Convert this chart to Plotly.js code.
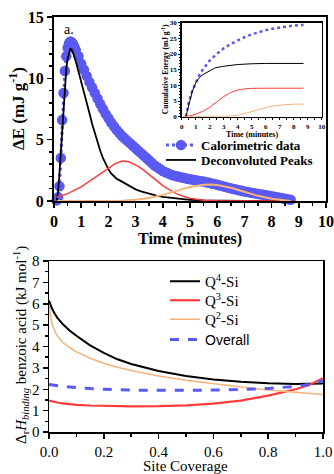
<!DOCTYPE html>
<html>
<head>
<meta charset="utf-8">
<script src="https://cdn.plot.ly/plotly-3.0.1.min.js"></script>
<style>html,body{margin:0;padding:0;background:#fff;}#chart{width:334px;height:474px;}</style>
</head>
<body>
<div id="chart"></div>
<script>
// ---- Panel a: calorimetric data (minutes, mJ/g) ----
const calTime = [0.10,0.15,0.20,0.25,0.30,0.35,0.40,0.45,0.50,0.55,0.60,0.65,0.70,0.75,0.80,0.9,1.0,1.1,1.2,1.3,1.4,1.5,1.6,1.7,1.8,1.9,2.0,2.1,2.2,2.3,2.4,2.5,2.6,2.7,2.8,2.9,3.0,3.1,3.2,3.3,3.4,3.5,3.6,3.7,3.8,3.9,4.0,4.1,4.2,4.3,4.4,4.5,4.6,4.7,4.8,4.9,5.0,5.1,5.2,5.3,5.4,5.5,5.6,5.7,5.8,5.9,6.0,6.1,6.2,6.3,6.4,6.5,6.6,6.7,6.8,6.9,7.0,7.1,7.2,7.3,7.4,7.5,7.6,7.7,7.8,7.9,8.0,8.1,8.2,8.3,8.4,8.5,8.6,8.7];
const calEnergy = [0.05,0.3,1.2,3.5,6.6,8.8,10.6,11.8,12.5,12.85,13.0,12.95,12.8,12.55,12.3,11.8,11.2,10.7,10.2,9.7,9.25,8.8,8.35,7.9,7.5,7.1,6.75,6.4,6.1,5.8,5.55,5.3,5.1,4.9,4.7,4.5,4.3,4.1,3.9,3.7,3.5,3.3,3.1,2.9,2.75,2.6,2.45,2.35,2.25,2.15,2.08,2.02,1.97,1.92,1.87,1.82,1.78,1.74,1.70,1.66,1.62,1.58,1.53,1.48,1.43,1.38,1.33,1.27,1.21,1.15,1.09,1.03,0.98,0.93,0.88,0.83,0.78,0.74,0.70,0.66,0.62,0.58,0.54,0.50,0.46,0.42,0.38,0.34,0.30,0.26,0.22,0.18,0.14,0.10];

// Deconvoluted peaks
const peak1Time = [0.10,0.15,0.20,0.25,0.30,0.35,0.40,0.45,0.50,0.55,0.60,0.65,0.70,0.80,0.90,1.0,1.1,1.2,1.3,1.4,1.5,1.6,1.7,1.8,1.9,2.0,2.1,2.2,2.3,2.4,2.5,2.6,2.8,3.0,3.2,3.4,3.6,3.8,4.0,4.5,5.0,5.5,6.0,7.0,8.7];
const peak1Energy = [0.0,0.8,2.2,4.0,6.0,7.9,9.5,10.7,11.6,12.1,12.4,12.35,12.1,11.4,10.6,9.8,9.0,8.1,7.2,6.3,5.5,4.75,4.1,3.5,3.0,2.6,2.25,2.0,1.82,1.7,1.58,1.45,1.18,0.95,0.78,0.64,0.52,0.42,0.34,0.2,0.1,0.05,0.02,0.0,0.0];
const peak2Time = [0.1,0.5,1.0,1.5,2.0,2.25,2.5,2.75,3.0,3.25,3.5,3.75,4.0,4.25,4.5,4.75,5.0,5.5,6.0,7.0,8.7];
const peak2Energy = [0.3,0.6,1.15,1.9,2.7,3.05,3.25,3.2,2.95,2.6,2.15,1.7,1.25,0.9,0.6,0.38,0.22,0.07,0.02,0.0,0.0];
const peak3Time = [0.1,2.0,2.5,3.0,3.5,4.0,4.5,5.0,5.5,5.75,6.0,6.5,7.0,7.5,8.0,8.5,8.7];
const peak3Energy = [0.0,0.0,0.03,0.1,0.25,0.5,0.85,1.15,1.32,1.35,1.3,1.08,0.75,0.42,0.18,0.04,0.0];

// Inset: cumulative energy (mJ/g)
const cumCalTime = [0.3,0.5,0.75,1.0,1.25,1.5,2.0,2.5,3.0,3.5,4.0,4.5,5.0,5.5,6.0,6.5,7.0,7.5,8.0,8.7];
const cumCalEnergy = [0,4.5,8.2,11.0,13.2,15.0,17.9,20.0,21.8,23.2,24.4,25.4,26.3,27.0,27.6,28.1,28.5,28.8,29.1,29.3];
const cumP1Time = [0.3,0.5,0.75,1.0,1.25,1.5,2.0,2.4,3.0,3.5,4.0,5.0,6.0,8.7];
const cumP1Energy = [0,4.0,8.0,10.8,12.4,13.4,14.6,15.6,16.1,16.4,16.65,16.9,17.0,17.0];
const cumP2Time = [0.1,0.5,1.0,1.5,2.0,2.5,3.0,3.5,4.0,4.5,5.0,6.0,8.7];
const cumP2Energy = [0,0.2,0.8,1.7,3.0,4.7,6.4,7.7,8.5,8.9,9.05,9.1,9.1];
const cumP3Time = [0.1,3.0,3.5,4.0,4.5,5.0,5.5,6.0,6.5,7.0,7.5,8.0,8.7];
const cumP3Energy = [0,0.05,0.2,0.5,1.0,1.6,2.3,2.9,3.4,3.7,3.9,4.0,4.0];

// ---- Panel b: binding enthalpy vs site coverage ----
const coverage = [0,0.005,0.01,0.02,0.03,0.05,0.075,0.1,0.15,0.2,0.25,0.3,0.4,0.5,0.6,0.7,0.8,0.9,0.95,1.0];
const q4Si = [6.15,5.95,5.8,5.55,5.35,5.05,4.75,4.5,4.05,3.7,3.4,3.18,2.85,2.62,2.46,2.35,2.28,2.25,2.25,2.27];
const q3Si = [1.47,1.45,1.43,1.4,1.38,1.34,1.3,1.27,1.24,1.22,1.21,1.2,1.21,1.25,1.33,1.47,1.7,2.0,2.2,2.52];
const q2Si = [5.9,5.4,5.1,4.75,4.5,4.2,3.95,3.75,3.45,3.22,3.03,2.88,2.62,2.42,2.25,2.1,1.97,1.86,1.8,1.75];
const overall = [2.22,2.21,2.2,2.18,2.17,2.14,2.11,2.08,2.03,2.0,1.97,1.96,1.95,1.95,1.96,1.99,2.04,2.13,2.22,2.4];

const BLUE = '#5a5af2', RED = '#ff3c3c', ORANGE = '#f5b27a';
const SERIF = 'Liberation Serif';
const SANS = 'Liberation Sans';

const traces = [
  {x: calTime, y: calEnergy, xaxis:'x', yaxis:'y', mode:'lines+markers', name:'Calorimetric data',
   marker:{color:BLUE, size:10.5}, line:{color:BLUE, width:3, dash:'dot'}, cliponaxis:false, legend:'legend'},
  {x: peak1Time, y: peak1Energy, xaxis:'x', yaxis:'y', mode:'lines', name:'Deconvoluted Peaks',
   line:{color:'#000', width:1.8}, legend:'legend2'},
  {x: peak2Time, y: peak2Energy, xaxis:'x', yaxis:'y', mode:'lines', showlegend:false, line:{color:RED, width:1.5}},
  {x: peak3Time, y: peak3Energy, xaxis:'x', yaxis:'y', mode:'lines', showlegend:false, line:{color:ORANGE, width:2}},

  {x: cumCalTime, y: cumCalEnergy, xaxis:'x2', yaxis:'y2', mode:'lines', showlegend:false, line:{color:BLUE, width:2.5, dash:'dot'}},
  {x: cumP1Time, y: cumP1Energy, xaxis:'x2', yaxis:'y2', mode:'lines', showlegend:false, line:{color:'#000', width:1}},
  {x: cumP2Time, y: cumP2Energy, xaxis:'x2', yaxis:'y2', mode:'lines', showlegend:false, line:{color:RED, width:1}},
  {x: cumP3Time, y: cumP3Energy, xaxis:'x2', yaxis:'y2', mode:'lines', showlegend:false, line:{color:ORANGE, width:1}},

  {x: coverage, y: q4Si, xaxis:'x3', yaxis:'y3', mode:'lines', name:'Q<sup>4</sup>-Si', line:{color:'#000', width:2}, legend:'legend3'},
  {x: coverage, y: q3Si, xaxis:'x3', yaxis:'y3', mode:'lines', name:'Q<sup>3</sup>-Si', line:{color:RED, width:2.2}, legend:'legend4'},
  {x: coverage, y: q2Si, xaxis:'x3', yaxis:'y3', mode:'lines', name:'Q<sup>2</sup>-Si', line:{color:ORANGE, width:1.5}, legend:'legend5'},
  {x: coverage, y: overall, xaxis:'x3', yaxis:'y3', mode:'lines', name:'Overall', line:{color:BLUE, width:3, dash:'dash'}, legend:'legend6'}
];

const W = 334, H = 474;
const px = v => v / W, py = v => 1 - v / H;

const mainTick = {family: SERIF, size: 16, color: '#000', weight: 'bold'};
const insetTick = {family: SERIF, size: 7, color: '#000', weight: 'bold'};
const botTick = {family: SERIF, size: 15, color: '#000'};

function leg(x, yTop, font) {
  return {x: px(x), y: py(yTop), xanchor:'left', yanchor:'top', bgcolor:'rgba(0,0,0,0)', font: font,
          tracegroupgap:0, itemwidth:30};
}
const topLegFont = {family:SERIF, size:13, color:'#000', weight:'bold'};
const botLegFont = {family:SERIF, size:15, color:'#000'};

const layout = {
  width: W, height: H,
  margin: {l:0, r:0, t:0, b:0},
  font: {family: SERIF, color:'#000'},
  paper_bgcolor: '#fff', plot_bgcolor: 'rgba(0,0,0,0)',
  showlegend: true,
  xaxis: {domain:[px(54), px(326)], anchor:'y', range:[0,10], dtick:1, tick0:0, showgrid:false, zeroline:false,
    showline:true, linecolor:'#000', linewidth:2, mirror:true, ticks:'outside', ticklen:5, tickwidth:1.5, tickcolor:'#000',
    tickfont: mainTick, minor:{dtick:0.5, ticks:'outside', ticklen:3, tickwidth:1.5, tickcolor:'#000'}},
  yaxis: {domain:[py(201), py(17)], anchor:'x', range:[0,15], dtick:5, tick0:0, showgrid:false, zeroline:false,
    showline:true, linecolor:'#000', linewidth:2, mirror:true, ticks:'outside', ticklen:5, tickwidth:1.5, tickcolor:'#000',
    tickfont: mainTick, minor:{dtick:1, ticks:'outside', ticklen:3, tickwidth:1.5, tickcolor:'#000'}},
  xaxis2: {domain:[px(181.7), px(321.7)], anchor:'y2', range:[0,10], dtick:1, showgrid:false, zeroline:false,
    showline:true, linecolor:'#000', linewidth:1.5, mirror:true, ticks:'outside', ticklen:2, tickcolor:'#000',
    tickfont: insetTick, minor:{dtick:0.5, ticks:'outside', ticklen:1.5, tickcolor:'#000'}},
  yaxis2: {domain:[py(116.7), py(22.7)], anchor:'x2', range:[0,30], dtick:5, showgrid:false, zeroline:false,
    showline:true, linecolor:'#000', linewidth:1.5, mirror:true, ticks:'outside', ticklen:2, tickcolor:'#000',
    tickfont: insetTick, minor:{dtick:1, ticks:'outside', ticklen:1.5, tickcolor:'#000'}},
  xaxis3: {domain:[px(49), px(323)], anchor:'y3', range:[0,1], dtick:0.2, tickformat:'.1f', showgrid:false, zeroline:false,
    showline:true, linecolor:'#000', linewidth:1.5, mirror:true, ticks:'outside', ticklen:5, tickwidth:1.5, tickcolor:'#000',
    tickfont: botTick, minor:{dtick:0.1, ticks:'outside', ticklen:3, tickwidth:1.5, tickcolor:'#000'}},
  yaxis3: {domain:[py(432), py(261)], anchor:'x3', range:[0,8], dtick:1, showgrid:false, zeroline:false,
    showline:true, linecolor:'#000', linewidth:1.5, mirror:true, ticks:'outside', ticklen:5, tickwidth:1.5, tickcolor:'#000',
    tickfont: botTick, minor:{dtick:0.5, ticks:'outside', ticklen:3, tickwidth:1.5, tickcolor:'#000'}},
  legend:  leg(161, 130, topLegFont),
  legend2: leg(161, 145, topLegFont),
  legend3: leg(165, 265, botLegFont),
  legend4: leg(165, 284, botLegFont),
  legend5: leg(165, 303, botLegFont),
  legend6: leg(165, 324, {family:SANS, size:14, color:'#000'}),
  annotations: [
    {text:'a.', xref:'paper', yref:'paper', x:px(62), y:py(29), xanchor:'left', yanchor:'middle', showarrow:false,
     font:{family:SERIF, size:14, color:'#000'}},
    {text:'ΔE (mJ g<sup>-1</sup>)', xref:'paper', yref:'paper', x:px(17), y:py(109), xanchor:'center', yanchor:'middle',
     textangle:-90, showarrow:false, font:{family:SERIF, size:17, color:'#000', weight:'bold'}},
    {text:'Time (minutes)', xref:'paper', yref:'paper', x:px(190), y:py(239), xanchor:'center', yanchor:'middle',
     showarrow:false, font:{family:SERIF, size:16, color:'#000', weight:'bold'}},
    {text:'Time (minutes)', xref:'paper', yref:'paper', x:px(251.7), y:py(135), xanchor:'center', yanchor:'middle',
     showarrow:false, font:{family:SERIF, size:8, color:'#000', weight:'bold'}},
    {text:'Cumulative Energy (mJ g<sup>-1</sup>)', xref:'paper', yref:'paper', x:px(164.5), y:py(69.7), xanchor:'center', yanchor:'middle',
     textangle:-90, showarrow:false, font:{family:SERIF, size:7.5, color:'#000', weight:'bold'}},
    {text:'Δ<sub>r</sub><i>H</i><sub><i>binding</i></sub> benzoic acid (kJ mol<sup>-1</sup>)', xref:'paper', yref:'paper',
     x:px(21), y:py(345), xanchor:'center', yanchor:'middle', textangle:-90, showarrow:false,
     font:{family:SERIF, size:15, color:'#000'}},
    {text:'Site Coverage', xref:'paper', yref:'paper', x:px(186), y:py(465.5), xanchor:'center', yanchor:'middle',
     showarrow:false, font:{family:SERIF, size:15, color:'#000'}}
  ]
};

Plotly.newPlot('chart', traces, layout, {displayModeBar:false, staticPlot:true});
</script>
</body>
</html>
